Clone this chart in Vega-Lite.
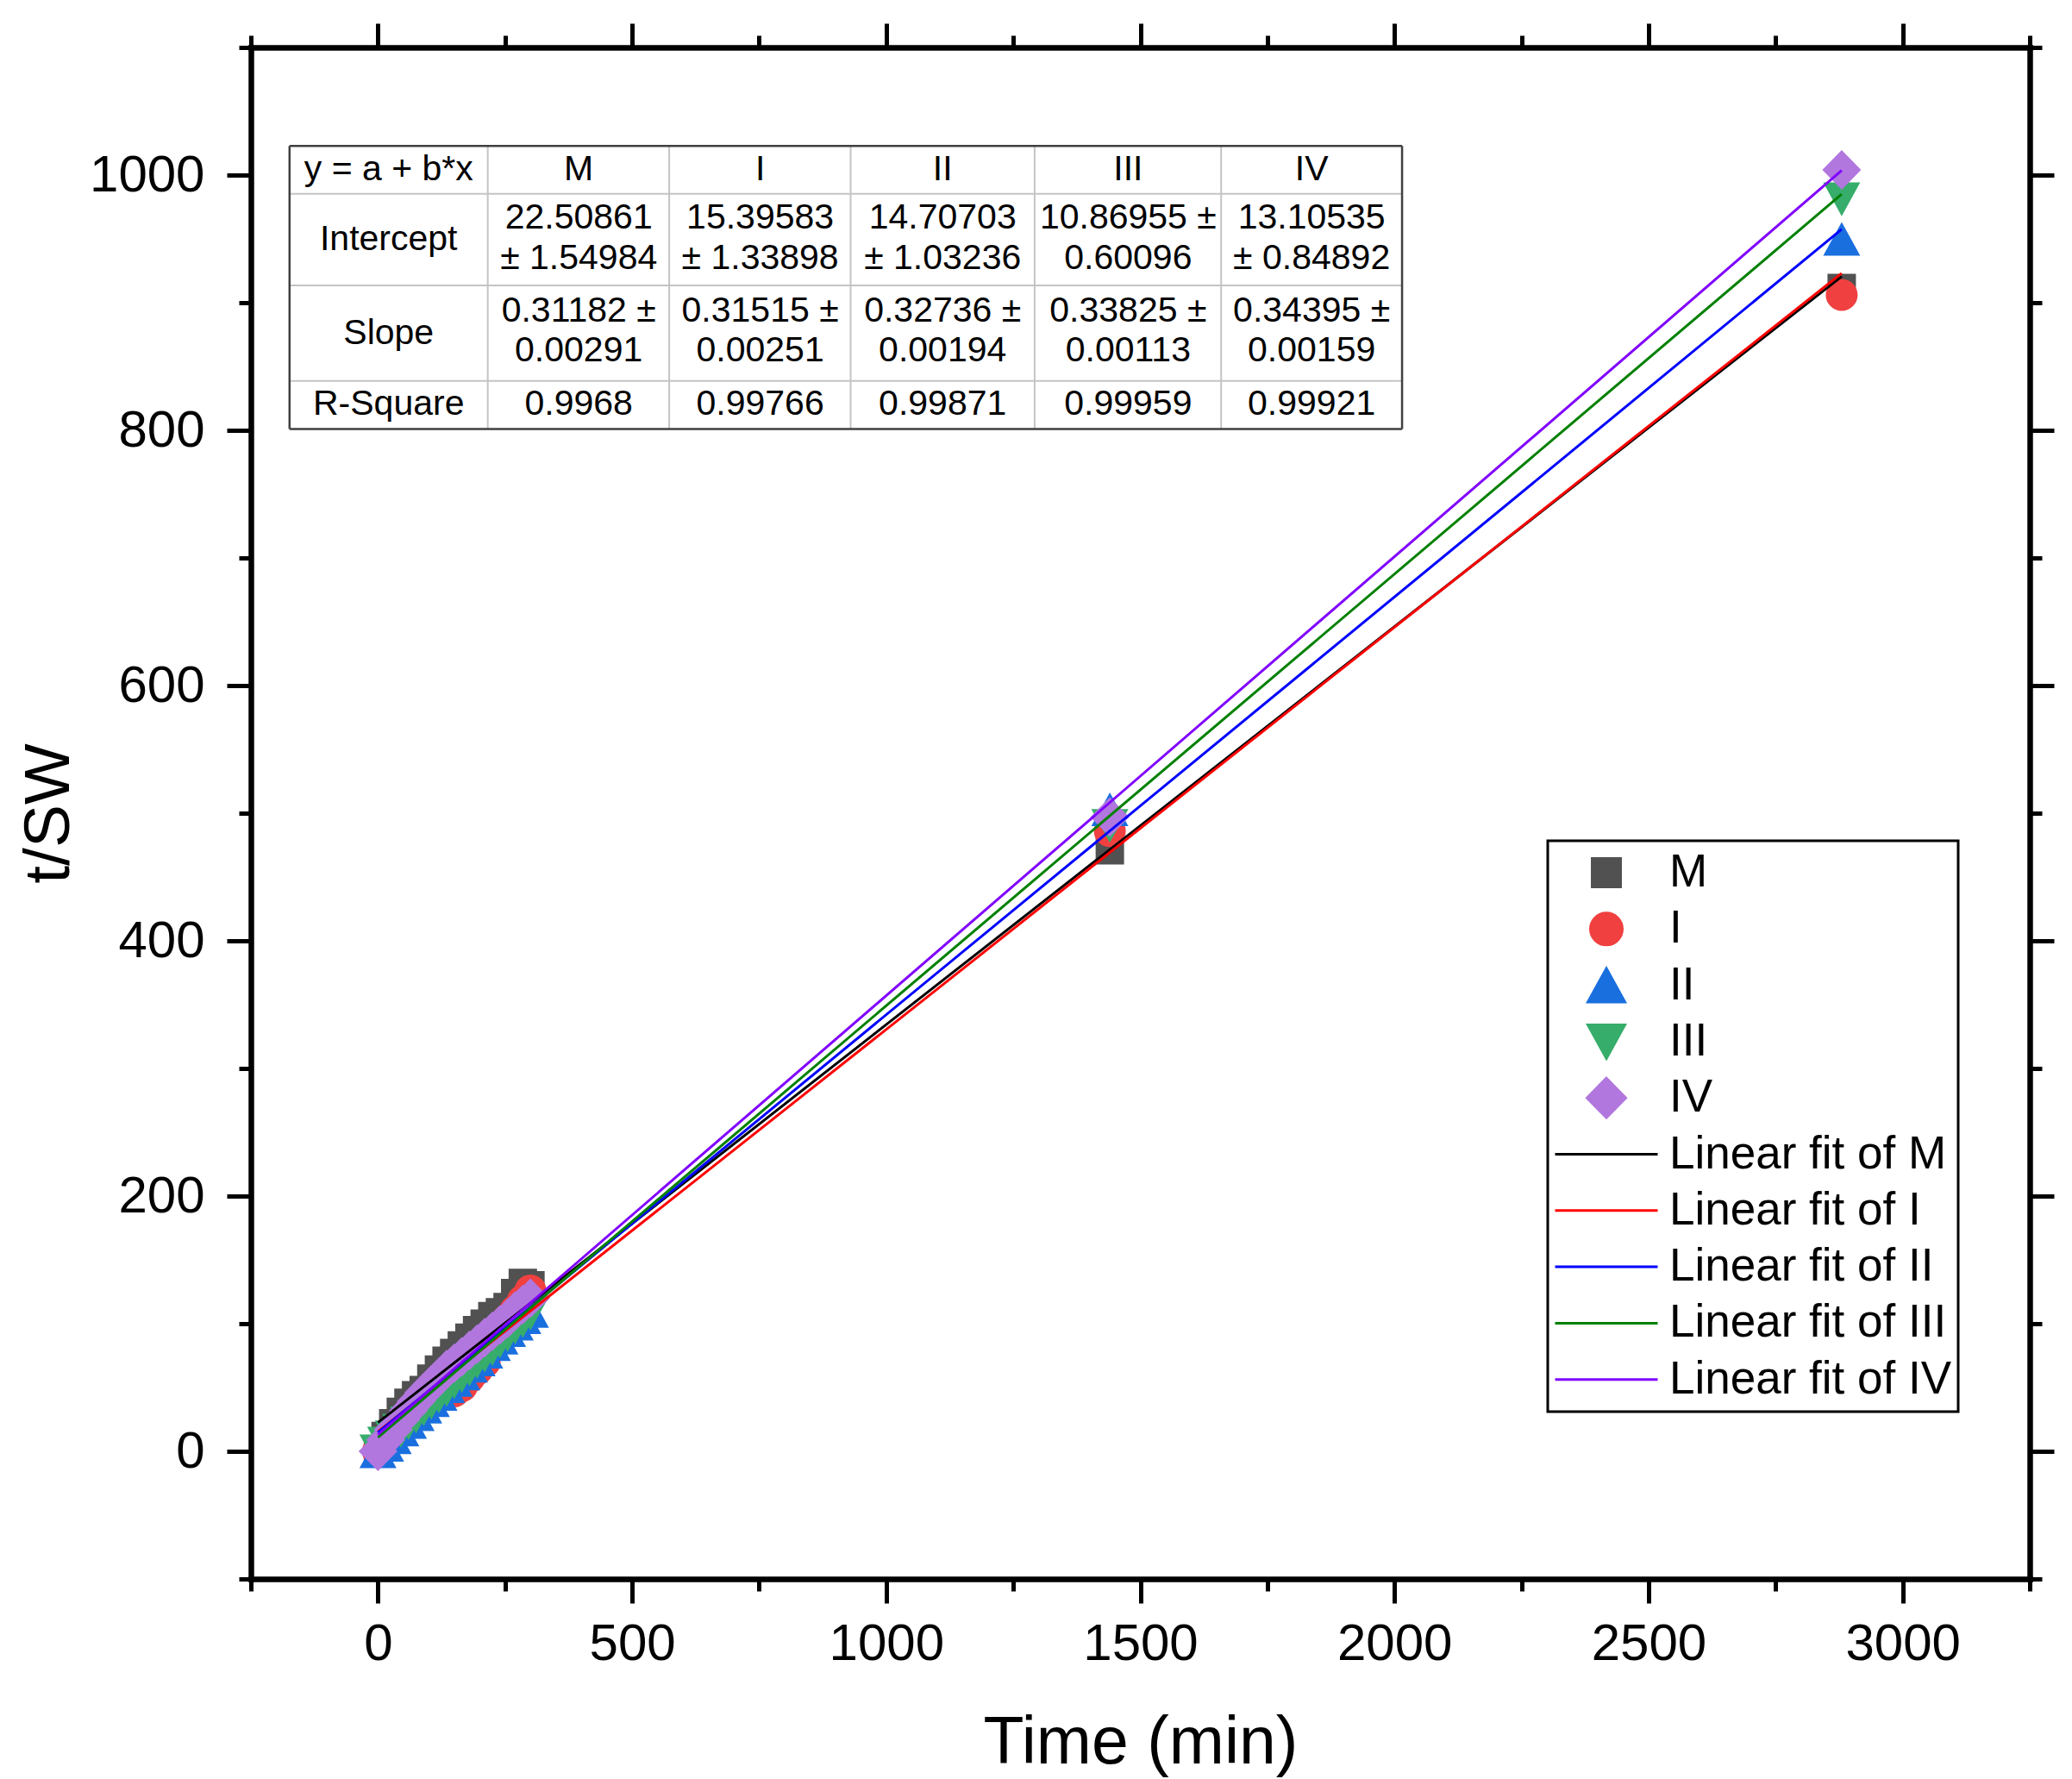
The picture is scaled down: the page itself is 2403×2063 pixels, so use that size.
{
  "$schema": "https://vega.github.io/schema/vega-lite/v6.json",
  "width": 2063,
  "height": 1776,
  "autosize": {"type": "none"},
  "padding": {"left": 291, "top": 55, "right": 49, "bottom": 232},
  "background": "white",
  "config": {
    "view": {"stroke": null},
    "font": "Liberation Sans",
    "axis": {
      "grid": false,
      "domainColor": "black",
      "domainWidth": 6.5,
      "domainCap": "square",
      "tickColor": "black",
      "tickWidth": 5,
      "labelFont": "Liberation Sans",
      "labelFontSize": 60,
      "labelColor": "black",
      "labelOverlap": false,
      "labelFlush": false,
      "titleFont": "Liberation Sans",
      "titleFontSize": 75,
      "titleFontWeight": "normal",
      "titleColor": "black"
    }
  },
  "datasets": {
    "pts": [
      {"series": "M", "Time": 0, "tSW": 0},
      {"series": "M", "Time": 15, "tSW": 12},
      {"series": "M", "Time": 30, "tSW": 22},
      {"series": "M", "Time": 45, "tSW": 31},
      {"series": "M", "Time": 60, "tSW": 38},
      {"series": "M", "Time": 75, "tSW": 44},
      {"series": "M", "Time": 90, "tSW": 48},
      {"series": "M", "Time": 105, "tSW": 57},
      {"series": "M", "Time": 120, "tSW": 64},
      {"series": "M", "Time": 135, "tSW": 71},
      {"series": "M", "Time": 150, "tSW": 77},
      {"series": "M", "Time": 165, "tSW": 83},
      {"series": "M", "Time": 180, "tSW": 89},
      {"series": "M", "Time": 195, "tSW": 95},
      {"series": "M", "Time": 210, "tSW": 100},
      {"series": "M", "Time": 225, "tSW": 106},
      {"series": "M", "Time": 240, "tSW": 109},
      {"series": "M", "Time": 255, "tSW": 113},
      {"series": "M", "Time": 270, "tSW": 124},
      {"series": "M", "Time": 285, "tSW": 132},
      {"series": "M", "Time": 300, "tSW": 130},
      {"series": "M", "Time": 1440, "tSW": 471},
      {"series": "M", "Time": 2880, "tSW": 911.5},
      {"series": "I", "Time": 0, "tSW": 0},
      {"series": "I", "Time": 15, "tSW": 7},
      {"series": "I", "Time": 30, "tSW": 13},
      {"series": "I", "Time": 45, "tSW": 20},
      {"series": "I", "Time": 60, "tSW": 26},
      {"series": "I", "Time": 75, "tSW": 31},
      {"series": "I", "Time": 90, "tSW": 37},
      {"series": "I", "Time": 105, "tSW": 42},
      {"series": "I", "Time": 120, "tSW": 46},
      {"series": "I", "Time": 135, "tSW": 49},
      {"series": "I", "Time": 150, "tSW": 47},
      {"series": "I", "Time": 165, "tSW": 51},
      {"series": "I", "Time": 180, "tSW": 58},
      {"series": "I", "Time": 195, "tSW": 64},
      {"series": "I", "Time": 210, "tSW": 70},
      {"series": "I", "Time": 225, "tSW": 88},
      {"series": "I", "Time": 240, "tSW": 96},
      {"series": "I", "Time": 255, "tSW": 103},
      {"series": "I", "Time": 270, "tSW": 110},
      {"series": "I", "Time": 285, "tSW": 118},
      {"series": "I", "Time": 300, "tSW": 126},
      {"series": "I", "Time": 1440, "tSW": 486},
      {"series": "I", "Time": 2880, "tSW": 906},
      {"series": "II", "Time": 0, "tSW": 0},
      {"series": "II", "Time": 15, "tSW": 5},
      {"series": "II", "Time": 30, "tSW": 11},
      {"series": "II", "Time": 45, "tSW": 17},
      {"series": "II", "Time": 60, "tSW": 23},
      {"series": "II", "Time": 75, "tSW": 29},
      {"series": "II", "Time": 90, "tSW": 35},
      {"series": "II", "Time": 105, "tSW": 40},
      {"series": "II", "Time": 120, "tSW": 45},
      {"series": "II", "Time": 135, "tSW": 51},
      {"series": "II", "Time": 150, "tSW": 56},
      {"series": "II", "Time": 165, "tSW": 61},
      {"series": "II", "Time": 180, "tSW": 67},
      {"series": "II", "Time": 195, "tSW": 72},
      {"series": "II", "Time": 210, "tSW": 78},
      {"series": "II", "Time": 225, "tSW": 84},
      {"series": "II", "Time": 240, "tSW": 89},
      {"series": "II", "Time": 255, "tSW": 95},
      {"series": "II", "Time": 270, "tSW": 100},
      {"series": "II", "Time": 285, "tSW": 105},
      {"series": "II", "Time": 300, "tSW": 110},
      {"series": "II", "Time": 1440, "tSW": 503},
      {"series": "II", "Time": 2880, "tSW": 950},
      {"series": "III", "Time": 0, "tSW": 0},
      {"series": "III", "Time": 15, "tSW": 6},
      {"series": "III", "Time": 30, "tSW": 11},
      {"series": "III", "Time": 45, "tSW": 16},
      {"series": "III", "Time": 60, "tSW": 22},
      {"series": "III", "Time": 75, "tSW": 27},
      {"series": "III", "Time": 90, "tSW": 33},
      {"series": "III", "Time": 105, "tSW": 38},
      {"series": "III", "Time": 120, "tSW": 43},
      {"series": "III", "Time": 135, "tSW": 48},
      {"series": "III", "Time": 150, "tSW": 54},
      {"series": "III", "Time": 165, "tSW": 59},
      {"series": "III", "Time": 180, "tSW": 64},
      {"series": "III", "Time": 195, "tSW": 70},
      {"series": "III", "Time": 210, "tSW": 75},
      {"series": "III", "Time": 225, "tSW": 80},
      {"series": "III", "Time": 240, "tSW": 86},
      {"series": "III", "Time": 255, "tSW": 91},
      {"series": "III", "Time": 270, "tSW": 97},
      {"series": "III", "Time": 285, "tSW": 102},
      {"series": "III", "Time": 300, "tSW": 108},
      {"series": "III", "Time": 1440, "tSW": 490},
      {"series": "III", "Time": 2880, "tSW": 981},
      {"series": "IV", "Time": 0, "tSW": 0},
      {"series": "IV", "Time": 15, "tSW": 9},
      {"series": "IV", "Time": 30, "tSW": 17},
      {"series": "IV", "Time": 45, "tSW": 25},
      {"series": "IV", "Time": 60, "tSW": 32},
      {"series": "IV", "Time": 75, "tSW": 39},
      {"series": "IV", "Time": 90, "tSW": 46},
      {"series": "IV", "Time": 105, "tSW": 52},
      {"series": "IV", "Time": 120, "tSW": 58},
      {"series": "IV", "Time": 135, "tSW": 64},
      {"series": "IV", "Time": 150, "tSW": 69},
      {"series": "IV", "Time": 165, "tSW": 74},
      {"series": "IV", "Time": 180, "tSW": 79},
      {"series": "IV", "Time": 195, "tSW": 84},
      {"series": "IV", "Time": 210, "tSW": 89},
      {"series": "IV", "Time": 225, "tSW": 94},
      {"series": "IV", "Time": 240, "tSW": 99},
      {"series": "IV", "Time": 255, "tSW": 104},
      {"series": "IV", "Time": 270, "tSW": 110},
      {"series": "IV", "Time": 285, "tSW": 115},
      {"series": "IV", "Time": 300, "tSW": 120},
      {"series": "IV", "Time": 1440, "tSW": 497},
      {"series": "IV", "Time": 2880, "tSW": 1004}
    ],
    "fits": [
      {"series": "Linear fit of M", "Time": 0, "tSW": 22.51},
      {"series": "Linear fit of M", "Time": 2880, "tSW": 920.55},
      {"series": "Linear fit of I", "Time": 0, "tSW": 15.40},
      {"series": "Linear fit of I", "Time": 2880, "tSW": 923.03},
      {"series": "Linear fit of II", "Time": 0, "tSW": 14.71},
      {"series": "Linear fit of II", "Time": 2880, "tSW": 957.51},
      {"series": "Linear fit of III", "Time": 0, "tSW": 10.87},
      {"series": "Linear fit of III", "Time": 2880, "tSW": 985.03},
      {"series": "Linear fit of IV", "Time": 0, "tSW": 13.11},
      {"series": "Linear fit of IV", "Time": 2880, "tSW": 1003.68}
    ],
    "tableOuter": [
      {"x1": -174, "x2": 2015, "y1": 1022.8, "y2": 1022.8},
      {"x1": -174, "x2": 2015, "y1": 801, "y2": 801},
      {"x1": -174, "x2": -174, "y1": 801, "y2": 1022.8},
      {"x1": 2015, "x2": 2015, "y1": 801, "y2": 1022.8}
    ],
    "tableInner": [
      {"x1": -174, "x2": 2015, "y1": 985.3, "y2": 985.3},
      {"x1": -174, "x2": 2015, "y1": 913.5, "y2": 913.5},
      {"x1": -174, "x2": 2015, "y1": 838.6, "y2": 838.6},
      {"x1": 216, "x2": 216, "y1": 801, "y2": 1022.8},
      {"x1": 573, "x2": 573, "y1": 801, "y2": 1022.8},
      {"x1": 930, "x2": 930, "y1": 801, "y2": 1022.8},
      {"x1": 1292, "x2": 1292, "y1": 801, "y2": 1022.8},
      {"x1": 1659, "x2": 1659, "y1": 801, "y2": 1022.8}
    ],
    "tableText": [
      {"cx": 21, "cy": 1004, "txt": "y = a + b*x"},
      {"cx": 395, "cy": 1004, "txt": "M"},
      {"cx": 752, "cy": 1004, "txt": "I"},
      {"cx": 1111, "cy": 1004, "txt": "II"},
      {"cx": 1476, "cy": 1004, "txt": "III"},
      {"cx": 1837, "cy": 1004, "txt": "IV"},
      {"cx": 21, "cy": 949.4, "txt": "Intercept"},
      {"cx": 395, "cy": 966, "txt": "22.50861"},
      {"cx": 395, "cy": 934.5, "txt": "± 1.54984"},
      {"cx": 752, "cy": 966, "txt": "15.39583"},
      {"cx": 752, "cy": 934.5, "txt": "± 1.33898"},
      {"cx": 1111, "cy": 966, "txt": "14.70703"},
      {"cx": 1111, "cy": 934.5, "txt": "± 1.03236"},
      {"cx": 1476, "cy": 966, "txt": "10.86955 ±"},
      {"cx": 1476, "cy": 934.5, "txt": "0.60096"},
      {"cx": 1837, "cy": 966, "txt": "13.10535"},
      {"cx": 1837, "cy": 934.5, "txt": "± 0.84892"},
      {"cx": 21, "cy": 876, "txt": "Slope"},
      {"cx": 395, "cy": 893.5, "txt": "0.31182 ±"},
      {"cx": 395, "cy": 862.5, "txt": "0.00291"},
      {"cx": 752, "cy": 893.5, "txt": "0.31515 ±"},
      {"cx": 752, "cy": 862.5, "txt": "0.00251"},
      {"cx": 1111, "cy": 893.5, "txt": "0.32736 ±"},
      {"cx": 1111, "cy": 862.5, "txt": "0.00194"},
      {"cx": 1476, "cy": 893.5, "txt": "0.33825 ±"},
      {"cx": 1476, "cy": 862.5, "txt": "0.00113"},
      {"cx": 1837, "cy": 893.5, "txt": "0.34395 ±"},
      {"cx": 1837, "cy": 862.5, "txt": "0.00159"},
      {"cx": 21, "cy": 820.5, "txt": "R-Square"},
      {"cx": 395, "cy": 820.5, "txt": "0.9968"},
      {"cx": 752, "cy": 820.5, "txt": "0.99766"},
      {"cx": 1111, "cy": 820.5, "txt": "0.99871"},
      {"cx": 1476, "cy": 820.5, "txt": "0.99959"},
      {"cx": 1837, "cy": 820.5, "txt": "0.99921"}
    ]
  },
  "resolve": {"axis": {"x": "independent", "y": "independent"}},
  "layer": [
    {
      "data": {"name": "pts"},
      "mark": {"type": "point", "filled": true, "size": 14161, "opacity": 1, "strokeWidth": 0},
      "encoding": {
        "x": {
          "field": "Time",
          "type": "quantitative",
          "scale": {"domain": [-250, 3250], "nice": false, "zero": false},
          "axis": {
            "orient": "bottom",
            "values": [-250, 0, 250, 500, 750, 1000, 1250, 1500, 1750, 2000, 2250, 2500, 2750, 3000, 3250],
            "format": "d",
            "tickSize": {"condition": {"test": "datum.value % 500 === 0", "value": 28}, "value": 14},
            "labelExpr": "datum.value % 500 === 0 ? datum.label : ''",
            "labelPadding": 18,
            "title": "Time (min)",
            "titleFontSize": 77,
            "titlePadding": 47
          }
        },
        "y": {
          "field": "tSW",
          "type": "quantitative",
          "scale": {"domain": [-100, 1100], "nice": false, "zero": false},
          "axis": {
            "orient": "left",
            "values": [-100, 0, 100, 200, 300, 400, 500, 600, 700, 800, 900, 1000, 1100],
            "format": "d",
            "tickSize": {"condition": {"test": "datum.value % 200 === 0", "value": 28}, "value": 14},
            "labelExpr": "datum.value % 200 === 0 ? datum.label : ''",
            "labelPadding": 26,
            "title": "t/SW",
            "titlePadding": 8
          }
        },
        "color": {
          "field": "series",
          "type": "nominal",
          "scale": {
            "domain": ["M", "I", "II", "III", "IV", "Linear fit of M", "Linear fit of I", "Linear fit of II", "Linear fit of III", "Linear fit of IV"],
            "range": ["#515151", "#F04040", "#1A6FDF", "#37AD6B", "#B177DE", "#000000", "#FF0000", "#0000FF", "#008000", "#8000FF"]
          },
          "legend": {
            "title": null,
            "orient": "none",
            "legendX": 1504,
            "legendY": 920,
            "padding": 7,
            "strokeColor": "black",
            "fillColor": "white",
            "symbolSize": 14161,
            "symbolOpacity": 1,
            "clipHeight": 60,
            "rowPadding": 5.3,
            "labelOffset": 12,
            "labelFont": "Liberation Sans",
            "labelFontSize": 53,
            "labelColor": "black",
            "labelLimit": 800,
            "encode": {
              "legend": {"update": {"strokeWidth": {"value": 3}}},
              "symbols": {
                "update": {
                  "fill": {"scale": "color", "field": "value"},
                  "stroke": {"scale": "color", "field": "value"},
                  "strokeWidth": {"value": 3}
                }
              }
            }
          }
        },
        "shape": {
          "field": "series",
          "type": "nominal",
          "scale": {
            "domain": ["M", "I", "II", "III", "IV", "Linear fit of M", "Linear fit of I", "Linear fit of II", "Linear fit of III", "Linear fit of IV"],
            "range": [
              "M-0.277,-0.277L0.277,-0.277L0.277,0.277L-0.277,0.277Z",
              "M0.311,0A0.311,0.311,0,1,1,-0.311,0A0.311,0.311,0,1,1,0.311,0Z",
              "M0,-0.328L0.361,0.328L-0.361,0.328Z",
              "M0,0.328L0.361,-0.328L-0.361,-0.328Z",
              "M0,-0.386L0.378,0L0,0.386L-0.378,0Z",
              "M-1,0L1,0",
              "M-1,0L1,0",
              "M-1,0L1,0",
              "M-1,0L1,0",
              "M-1,0L1,0"
            ]
          },
          "legend": {
            "title": null,
            "orient": "none",
            "legendX": 1504,
            "legendY": 920,
            "padding": 7,
            "strokeColor": "black",
            "fillColor": "white",
            "symbolSize": 14161,
            "symbolOpacity": 1,
            "clipHeight": 60,
            "rowPadding": 5.3,
            "labelOffset": 12,
            "labelFont": "Liberation Sans",
            "labelFontSize": 53,
            "labelColor": "black",
            "labelLimit": 800,
            "encode": {
              "legend": {"update": {"strokeWidth": {"value": 3}}},
              "symbols": {
                "update": {
                  "fill": {"scale": "color", "field": "value"},
                  "stroke": {"scale": "color", "field": "value"},
                  "strokeWidth": {"value": 3}
                }
              }
            }
          }
        }
      }
    },
    {
      "data": {"name": "fits"},
      "mark": {"type": "line", "strokeWidth": 3},
      "encoding": {
        "x": {
          "field": "Time",
          "type": "quantitative",
          "axis": {
            "orient": "top",
            "values": [-250, 0, 250, 500, 750, 1000, 1250, 1500, 1750, 2000, 2250, 2500, 2750, 3000, 3250],
            "tickSize": {"condition": {"test": "datum.value % 500 === 0", "value": 28}, "value": 14},
            "labels": false,
            "title": null
          }
        },
        "y": {
          "field": "tSW",
          "type": "quantitative",
          "axis": {
            "orient": "right",
            "values": [-100, 0, 100, 200, 300, 400, 500, 600, 700, 800, 900, 1000, 1100],
            "tickSize": {"condition": {"test": "datum.value % 200 === 0", "value": 28}, "value": 14},
            "labels": false,
            "title": null
          }
        },
        "color": {"field": "series", "type": "nominal"}
      }
    },
    {
      "data": {"name": "tableInner"},
      "mark": {"type": "rule", "color": "#c4c4c4", "strokeWidth": 2},
      "encoding": {
        "x": {"field": "x1", "type": "quantitative", "axis": null},
        "x2": {"field": "x2"},
        "y": {"field": "y1", "type": "quantitative", "axis": null},
        "y2": {"field": "y2"}
      }
    },
    {
      "data": {"name": "tableOuter"},
      "mark": {"type": "rule", "color": "#404040", "strokeWidth": 2.5},
      "encoding": {
        "x": {"field": "x1", "type": "quantitative", "axis": null},
        "x2": {"field": "x2"},
        "y": {"field": "y1", "type": "quantitative", "axis": null},
        "y2": {"field": "y2"}
      }
    },
    {
      "data": {"name": "tableText"},
      "mark": {"type": "text", "font": "Liberation Sans", "fontSize": 41, "color": "black", "align": "center", "baseline": "middle"},
      "encoding": {
        "x": {"field": "cx", "type": "quantitative", "axis": null},
        "y": {"field": "cy", "type": "quantitative", "axis": null},
        "text": {"field": "txt"}
      }
    }
  ]
}
